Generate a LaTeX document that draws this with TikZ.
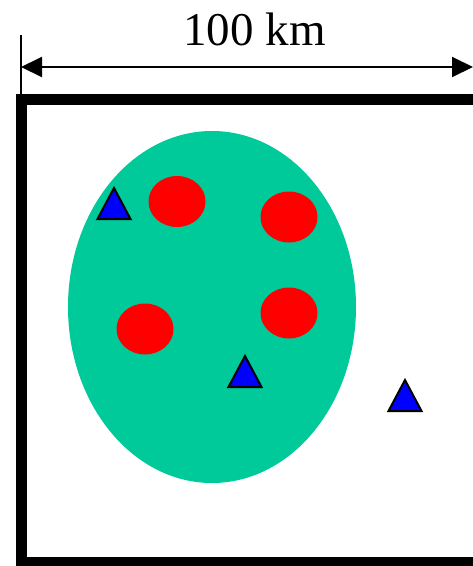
\documentclass[tikz,border=0pt]{standalone}
\usepackage{fontspec}
\setmainfont{Liberation Serif}
\usetikzlibrary{arrows.meta}
\definecolor{zonegreen}{RGB}{0,201,154}
\begin{document}
\begin{tikzpicture}[x=1pt,y=-1pt,
  frame/.style={line width=11pt, draw=black},
  dimline/.style={line width=2pt, {Triangle[length=21pt,width=20pt]}-{Triangle[length=21pt,width=20pt]}},
  tick/.style={line width=2pt},
  zone/.style={fill=zonegreen},
  site/.style={fill=red},
  station/.style={fill=blue, draw=black, line width=2pt, line join=miter}]
\useasboundingbox (0,0) rectangle (473,566);
\clip (0,0) rectangle (473,566);
% frame
\draw[frame] (21.5,99.5) rectangle (490,562.5);
% dimension
\coordinate (dl) at (21,67);
\coordinate (dr) at (473,67);
\draw[tick] (21,35) -- (21,95);
\draw[dimline] (dl) -- (dr);
\node[anchor=base, font=\fontsize{47}{50}\selectfont, inner sep=0pt] (lbl) at (254.5,45) {100 km};
% zone
\fill[zone] (212,307) ellipse [x radius=144, y radius=176];
% sites
\fill[site] (177,201.5) ellipse [x radius=28.5, y radius=25.5];
\fill[site] (289,217) ellipse [x radius=28.5, y radius=25.5];
\fill[site] (145,329) ellipse [x radius=28.5, y radius=25.5];
\fill[site] (289,313) ellipse [x radius=28.5, y radius=25.5];
% stations
\draw[station] (114,188) -- (130.5,219) -- (97.5,219) -- cycle;
\draw[station] (245,356) -- (261.5,387) -- (228.5,387) -- cycle;
\draw[station] (405,380) -- (421.5,411) -- (388.5,411) -- cycle;
\end{tikzpicture}
\end{document}
